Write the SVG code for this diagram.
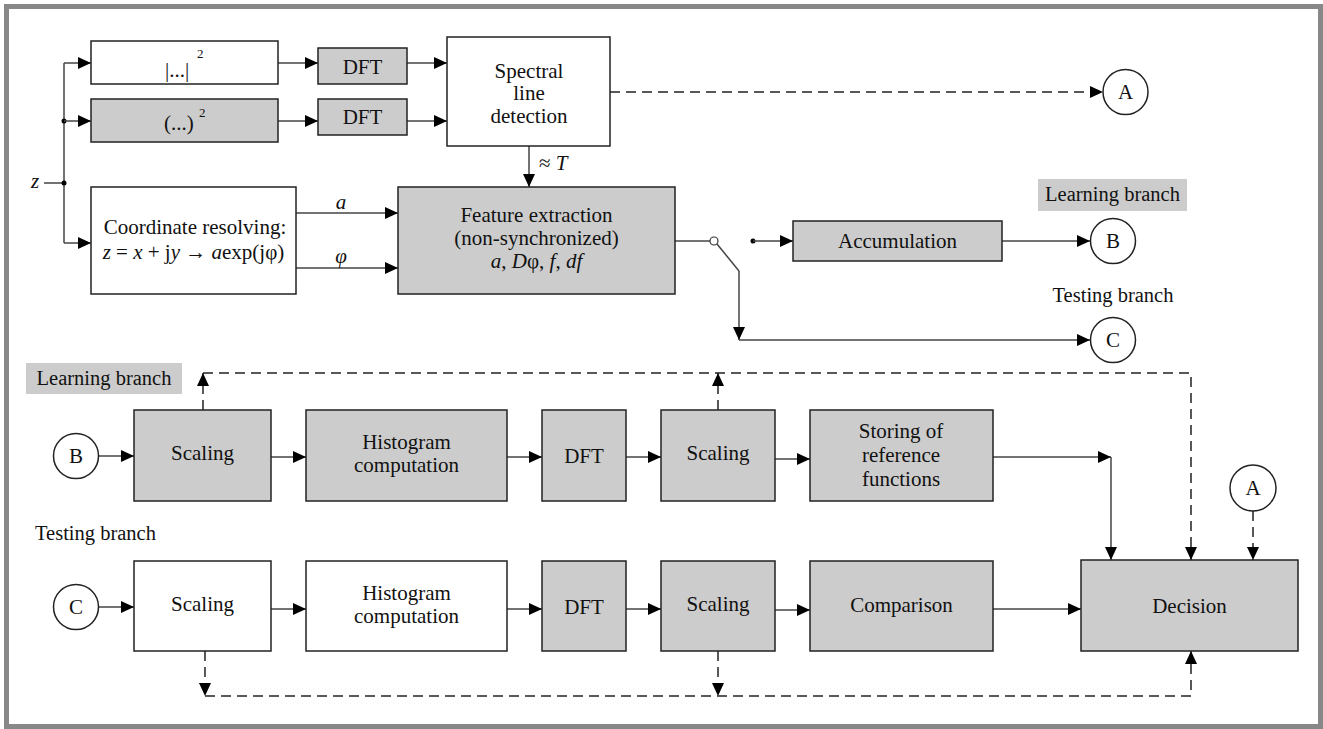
<svg xmlns="http://www.w3.org/2000/svg" width="1323" height="729" viewBox="0 0 1323 729" font-family="'Liberation Serif', 'DejaVu Serif', serif">
<style>
  text { font-family: 'Liberation Serif', 'DejaVu Serif', serif; font-size: 21px; fill: #111; }
  .c { text-anchor: middle; }
  .i { font-style: italic; }
  .lbl { font-size: 20.5px; }
  .box { stroke: #222; stroke-width: 1.5; }
  .g { fill: #cccccc; }
  .w { fill: #ffffff; }
  .circ { fill: #fff; stroke: #222; stroke-width: 1.5; }
  .ln { fill: none; stroke: #444; stroke-width: 1.5; }
  .dl { fill: none; stroke: #222; stroke-width: 1.5; stroke-dasharray: 10 6; }
  .sup { font-size: 13px; }
</style>
<defs>
  <marker id="ah" viewBox="0 0 13 12" refX="13" refY="6" markerWidth="13" markerHeight="12" markerUnits="userSpaceOnUse" orient="auto">
    <path d="M0,0 L13,6 L0,12 z" fill="#000"/>
  </marker>
</defs>
<rect x="6.5" y="6.5" width="1314" height="720" fill="#fff" stroke="#888" stroke-width="5"/>

<g id="connectors">
  <path class="ln" d="M64,63 V243"/>
  <path class="ln" d="M44,183 H64"/>
  <circle cx="64" cy="183" r="2.5" fill="#000"/>
  <circle cx="64" cy="121" r="2.5" fill="#000"/>
  <path class="ln" d="M64,63 H91" marker-end="url(#ah)"/>
  <path class="ln" d="M64,121 H91" marker-end="url(#ah)"/>
  <path class="ln" d="M64,243 H91" marker-end="url(#ah)"/>
  <path class="ln" d="M278,63 H318" marker-end="url(#ah)"/>
  <path class="ln" d="M278,121 H318" marker-end="url(#ah)"/>
  <path class="ln" d="M407,63 H447" marker-end="url(#ah)"/>
  <path class="ln" d="M407,121 H447" marker-end="url(#ah)"/>
  <path class="dl" d="M610,92 H1103" marker-end="url(#ah)"/>
  <path class="ln" d="M529,146 V187" marker-end="url(#ah)"/>
  <path class="ln" d="M296,213 H398" marker-end="url(#ah)"/>
  <path class="ln" d="M296,268 H398" marker-end="url(#ah)"/>
  <path class="ln" d="M675,241 H710"/>
  <circle cx="714" cy="241" r="4" fill="#fff" stroke="#333" stroke-width="1.2"/>
  <path class="ln" d="M717,244 L739,271"/>
  <path class="ln" d="M739,271 V340" marker-end="url(#ah)"/>
  <path class="ln" d="M739,340 H1090" marker-end="url(#ah)"/>
  <circle cx="753" cy="241" r="2.5" fill="#000"/>
  <path class="ln" d="M753,241 H793" marker-end="url(#ah)"/>
  <path class="ln" d="M1002,241 H1090" marker-end="url(#ah)"/>

  <path class="ln" d="M98.5,456 H134" marker-end="url(#ah)"/>
  <path class="ln" d="M271,457 H306" marker-end="url(#ah)"/>
  <path class="ln" d="M507,457 H542" marker-end="url(#ah)"/>
  <path class="ln" d="M626,457 H661" marker-end="url(#ah)"/>
  <path class="ln" d="M775,459 H810" marker-end="url(#ah)"/>
  <path class="ln" d="M993,457 H1111" marker-end="url(#ah)"/>
  <path class="ln" d="M1111,457 V560" marker-end="url(#ah)"/>
  <path class="dl" d="M203,410 V373" marker-end="url(#ah)"/>
  <path class="dl" d="M718,410 V373" marker-end="url(#ah)"/>
  <path class="dl" d="M203,373 H1191 V560" marker-end="url(#ah)"/>
  <path class="dl" d="M1253,511 V560" marker-end="url(#ah)"/>

  <path class="ln" d="M98.5,607 H134" marker-end="url(#ah)"/>
  <path class="ln" d="M271,609 H306" marker-end="url(#ah)"/>
  <path class="ln" d="M507,609 H542" marker-end="url(#ah)"/>
  <path class="ln" d="M626,609 H661" marker-end="url(#ah)"/>
  <path class="ln" d="M775,610 H810" marker-end="url(#ah)"/>
  <path class="ln" d="M993,609 H1081" marker-end="url(#ah)"/>
  <path class="dl" d="M205,651 V696" marker-end="url(#ah)"/>
  <path class="dl" d="M718,651 V696" marker-end="url(#ah)"/>
  <path class="dl" d="M205,696 H1191 V651" marker-end="url(#ah)"/>
</g>

<g id="z-label"><text class="i" x="31" y="188">z</text></g>

<g id="abs-square">
  <rect class="box w" x="91" y="41" width="187" height="43"/>
  <text x="165" y="77">|...|</text>
  <text class="sup" x="197" y="58">2</text>
</g>
<g id="square">
  <rect class="box g" x="91" y="99" width="187" height="43"/>
  <text x="164" y="130">(...)</text>
  <text class="sup" x="199" y="117">2</text>
</g>
<g id="dft1"><rect class="box g" x="318" y="48" width="89" height="36"/><text class="c" x="362.5" y="74">DFT</text></g>
<g id="dft2"><rect class="box g" x="318" y="99" width="89" height="36"/><text class="c" x="362.5" y="124">DFT</text></g>
<g id="spectral">
  <rect class="box w" x="447" y="37" width="163" height="109"/>
  <text class="c" x="529" y="78">Spectral</text>
  <text class="c" x="529" y="100">line</text>
  <text class="c" x="529" y="123">detection</text>
</g>
<g id="approx-T"><text x="539" y="170">≈ <tspan class="i">T</tspan></text></g>
<g id="coord">
  <rect class="box w" x="91" y="187" width="205" height="107"/>
  <text class="c" x="195" y="234">Coordinate resolving:</text>
  <text class="c" x="193.5" y="259"><tspan class="i">z</tspan> = <tspan class="i">x</tspan> + j<tspan class="i">y</tspan> → <tspan class="i">a</tspan>exp(jφ)</text>
</g>
<g id="label-a"><text class="i c" x="341" y="209">a</text></g>
<g id="label-phi"><text class="i c" x="341" y="263">φ</text></g>
<g id="feature">
  <rect class="box g" x="398" y="187" width="277" height="107"/>
  <text class="c" x="536.5" y="222">Feature extraction</text>
  <text class="c" x="536.5" y="245">(non-synchronized)</text>
  <text class="c" x="536.5" y="268"><tspan class="i">a</tspan>, <tspan class="i">D</tspan>φ,  <tspan class="i">f</tspan>, <tspan class="i">df</tspan></text>
</g>
<g id="accumulation">
  <rect class="box g" x="793" y="221" width="209" height="40"/>
  <text class="c" x="897.5" y="248">Accumulation</text>
</g>
<g id="circle-A-top"><circle class="circ" cx="1125.5" cy="92" r="22.5"/><text class="c" x="1125.5" y="99">A</text></g>
<g id="learning-label-top">
  <rect x="1038" y="179" width="149" height="32" fill="#cccccc"/>
  <text class="c lbl" x="1112.5" y="201">Learning branch</text>
</g>
<g id="circle-B-top"><circle class="circ" cx="1113" cy="241" r="22.5"/><text class="c" x="1113" y="248">B</text></g>
<g id="testing-label-top"><text class="c lbl" x="1113" y="302">Testing branch</text></g>
<g id="circle-C-top"><circle class="circ" cx="1113" cy="340" r="22.5"/><text class="c" x="1113" y="347">C</text></g>

<g id="learning-label">
  <rect x="26" y="363" width="156" height="31" fill="#cccccc"/>
  <text class="c lbl" x="104" y="385">Learning branch</text>
</g>
<g id="circle-B"><circle class="circ" cx="76" cy="456" r="22.5"/><text class="c" x="76" y="463">B</text></g>
<g id="scaling-l1"><rect class="box g" x="134" y="410" width="137" height="91"/><text class="c" x="202.5" y="460">Scaling</text></g>
<g id="histogram-l">
  <rect class="box g" x="306" y="410" width="201" height="91"/>
  <text class="c" x="406.5" y="449">Histogram</text>
  <text class="c" x="406.5" y="472">computation</text>
</g>
<g id="dft-l"><rect class="box g" x="542" y="410" width="84" height="91"/><text class="c" x="584" y="463">DFT</text></g>
<g id="scaling-l2"><rect class="box g" x="661" y="410" width="114" height="91"/><text class="c" x="718" y="460">Scaling</text></g>
<g id="storing">
  <rect class="box g" x="810" y="410" width="183" height="91"/>
  <text class="c" x="901" y="438">Storing of</text>
  <text class="c" x="901" y="462">reference</text>
  <text class="c" x="901" y="486">functions</text>
</g>
<g id="circle-A"><circle class="circ" cx="1253" cy="488" r="23"/><text class="c" x="1253" y="495">A</text></g>

<g id="testing-label"><text class="lbl" x="35" y="540">Testing branch</text></g>
<g id="circle-C"><circle class="circ" cx="76" cy="607" r="22.5"/><text class="c" x="76" y="614">C</text></g>
<g id="scaling-t1"><rect class="box w" x="134" y="561" width="137" height="90"/><text class="c" x="202.5" y="611">Scaling</text></g>
<g id="histogram-t">
  <rect class="box w" x="306" y="561" width="201" height="90"/>
  <text class="c" x="406.5" y="600">Histogram</text>
  <text class="c" x="406.5" y="623">computation</text>
</g>
<g id="dft-t"><rect class="box g" x="542" y="561" width="84" height="90"/><text class="c" x="584" y="614">DFT</text></g>
<g id="scaling-t2"><rect class="box g" x="661" y="561" width="114" height="90"/><text class="c" x="718" y="611">Scaling</text></g>
<g id="comparison"><rect class="box g" x="810" y="561" width="183" height="90"/><text class="c" x="901.5" y="612">Comparison</text></g>
<g id="decision"><rect class="box g" x="1081" y="560" width="217" height="91"/><text class="c" x="1189.5" y="613">Decision</text></g>
</svg>
